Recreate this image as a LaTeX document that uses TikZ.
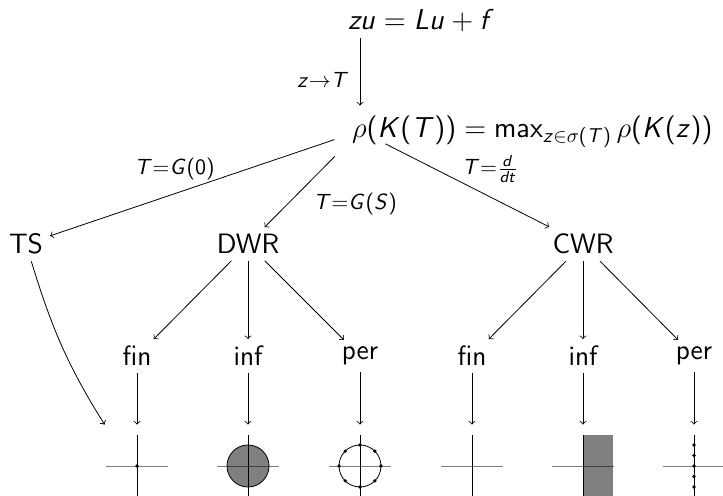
\documentclass[tikz,border=0pt]{standalone}
\DeclareSymbolFont{operators}{OT1}{cmss}{m}{n}
\DeclareSymbolFont{sfletters}{OT1}{cmss}{m}{sl}
\makeatletter
\def\sfmathletters#1{\ifx#1\relax\else\DeclareMathSymbol{#1}{\mathalpha}{sfletters}{`#1}\expandafter\sfmathletters\fi}
\sfmathletters abcdefghijklmnopqrstuvwxyzABCDEFGHIJKLMNOPQRSTUVWXYZ\relax
\makeatother
\begin{document}
\begin{tikzpicture}[x=0.5pt, y=-0.5pt, >=to,
  every node/.style={font=\fontsize{14}{17}\selectfont\sffamily},
  hub/.style={inner sep=0pt, minimum width=25pt, minimum height=25pt},
  topnode/.style={inner sep=0pt, minimum width=25pt, minimum height=17pt},
  lbl/.style={font=\fontsize{11}{13}\selectfont\sffamily, inner sep=0pt},
  plotbox/.style={inner sep=0pt, minimum width=32pt, minimum height=41pt},
  xaxis/.style={black, opacity=0.5},
  yaxis/.style={black},
  region/.style={fill=black!50},
  link/.style={->}
]
\useasboundingbox (0,0) rectangle (723,496);

% nodes
\node[topnode] (zu) at (360,21) {\rlap{\hspace*{-6pt}\raisebox{-4.5pt}[0pt][0pt]{$zu = Lu + f$}}};
\node[hub] (rho) at (360,131) {\rlap{\hspace*{-4pt}\raisebox{-3.3pt}[0pt][0pt]{\fontsize{14.3}{17}\selectfont$\rho(K(T)) = \max_{z\in\sigma(T)}\rho(K(z))$}}};
\node (TS) at (26,244) {TS};
\node (DWR) at (248,244) {DWR};
\node (CWR) at (583,244) {CWR};
\node (dfin) at (137,356) {fin};
\node (dinf) at (248,356) {inf};
\node (dper) at (360,356) {per};
\node (cfin) at (472,356) {fin};
\node (cinf) at (583,356) {inf};
\node (cper) at (694,356) {per};
\node[plotbox] (pA) at (137,466) {};
\node[plotbox] (pB) at (248,466) {};
\node[plotbox] (pC) at (360,466) {};
\node[plotbox] (pD) at (472,466) {};
\node[plotbox] (pE) at (583,466) {};
\node[plotbox] (pF) at (694,466) {};

% connectors
\draw[link] (zu) -- node[lbl, pos=0.62, xshift=-18.5pt] {$z{\to}T$} (rho);
\draw[link] (rho) -- node[lbl, pos=0.562, yshift=12.5pt] {$T{=}G(0)$} (TS);
\draw[link] (rho) -- node[lbl, pos=0.3, xshift=20.7pt, yshift=-13.2pt] {$T{=}G(S)$} (DWR);
\draw[link] (rho) -- node[lbl, pos=0.59, xshift=4pt, yshift=12pt] {$T{=}\frac{d}{dt}$} (CWR);
\draw[link] (DWR) -- (dfin);
\draw[link] (DWR) -- (dinf);
\draw[link] (DWR) -- (dper);
\draw[link] (CWR) -- (cfin);
\draw[link] (CWR) -- (cinf);
\draw[link] (CWR) -- (cper);
\draw[link] (dfin) -- (pA);
\draw[link] (dinf) -- (pB);
\draw[link] (dper) -- (pC);
\draw[link] (cfin) -- (pD);
\draw[link] (cinf) -- (pE);
\draw[link] (cper) -- (pF);
\draw[link] (TS) to[out=-73, in=122] (pA.north west);

% plot A: single point
\draw[xaxis] ([xshift=-15.5pt]pA.center) -- ([xshift=15.5pt]pA.center);
\draw[yaxis] ([yshift=15.5pt]pA.center) -- ([yshift=-15.5pt]pA.center);
\fill (pA.center) circle (0.9pt);

% plot B: filled disc
\draw[region] (pB.center) circle (10.5pt);
\draw[xaxis] ([xshift=-15.5pt]pB.center) -- ([xshift=15.5pt]pB.center);
\draw[yaxis] ([yshift=15.5pt]pB.center) -- ([yshift=-15.5pt]pB.center);

% plot C: circle with 8 points
\draw (pC.center) circle (10.5pt);
\draw[xaxis] ([xshift=-15.5pt]pC.center) -- ([xshift=15.5pt]pC.center);
\draw[yaxis] ([yshift=15.5pt]pC.center) -- ([yshift=-15.5pt]pC.center);
\foreach \a in {0,45,...,315} \fill ([shift={(\a:10.5pt)}]pC.center) circle (0.9pt);

% plot D: axes only
\draw[xaxis] ([xshift=-15.5pt]pD.center) -- ([xshift=15.5pt]pD.center);
\draw[yaxis] ([yshift=15.5pt]pD.center) -- ([yshift=-15.5pt]pD.center);

% plot E: half strip
\fill[black!50] ([yshift=15.5pt]pE.center) rectangle ([xshift=15pt, yshift=-15.5pt]pE.center);
\draw[xaxis] ([xshift=-15.5pt]pE.center) -- ([xshift=15.5pt]pE.center);
\draw[yaxis] ([yshift=15.5pt]pE.center) -- ([yshift=-15.5pt]pE.center);

% plot F: points on imaginary axis
\draw[xaxis] ([xshift=-15.5pt]pF.center) -- ([xshift=15.5pt]pF.center);
\draw[yaxis] ([yshift=15.5pt]pF.center) -- ([yshift=-15.5pt]pF.center);
\foreach \k in {-2,...,2} \fill ([yshift=\k*5.25pt]pF.center) circle (0.9pt);
\end{tikzpicture}
\end{document}
